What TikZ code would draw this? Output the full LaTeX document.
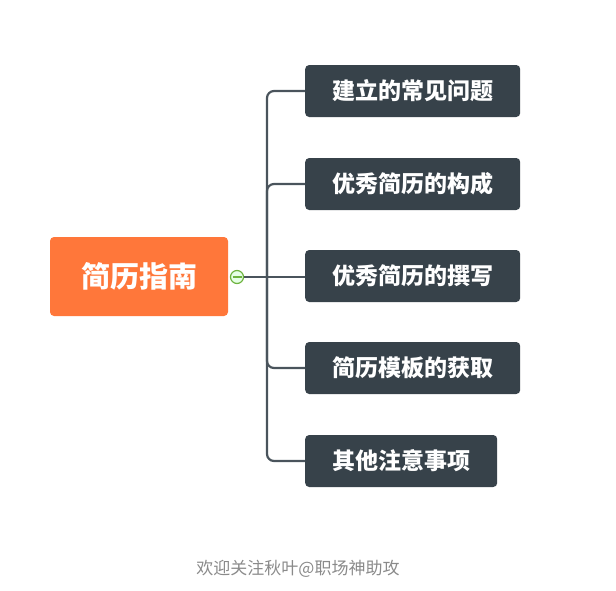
\documentclass[tikz,border=0pt]{standalone}
\usepackage{fontspec}
\usepackage{xcolor}
\usepackage{tikz}
\usetikzlibrary{positioning}
\newfontfamily\cjk{Noto Sans CJK SC}
\definecolor{corange}{HTML}{FF773A}
\definecolor{cdark}{HTML}{37424A}
\definecolor{cline}{HTML}{4A545C}
\definecolor{cgreen}{HTML}{6DB33F}
\definecolor{cmark}{HTML}{8A8A8A}

\begin{document}
\begin{tikzpicture}[
    x=1pt, y=-1pt,
    topic/.style={rectangle, rounded corners=4pt, fill=corange, text=white,
        font=\cjk\bfseries\fontsize{29}{29}\selectfont,
        minimum width=178pt, minimum height=79pt, inner sep=0pt},
    sub/.style={rectangle, rounded corners=4pt, fill=cdark, text=white, anchor=west,
        font=\cjk\bfseries\fontsize{23}{23}\selectfont,
        minimum height=52pt, inner xsep=27pt, inner ysep=0pt},
    link/.style={draw=cline, line width=2.2pt, rounded corners=7pt},
]
\useasboundingbox (0,0) rectangle (616,590);
% central topic
\node[topic] (guide) at (139, 276.5) {简历指南};
\node[circle, draw=cgreen, fill=green!10, line width=1.2pt, minimum size=13pt, inner sep=0pt]
    (fold) at (237, 277) {};
\draw[cgreen, line width=1.2pt] (232.5, 277) -- (241.5, 277);
\coordinate (trunk) at (267, 277);
% subtopics
\node[sub] (q1) at (305, 91)  {建立的常见问题};
\node[sub] (q2) at (305, 184) {优秀简历的构成};
\node[sub] (q3) at (305, 276) {优秀简历的撰写};
\node[sub] (q4) at (305, 368) {简历模板的获取};
\node[sub] (q5) at (305, 461) {其他注意事项};
% connectors
\draw[link] (fold.east) -- (trunk);
\foreach \n in {q1,q2,q4,q5}
    \draw[link] (trunk) |- (\n.west);
\draw[link] (trunk) -- (q3.west |- trunk);
% footer
\node[font=\cjk\fontsize{17}{17}\selectfont, text=cmark] (credit) at (298, 569) {欢迎关注秋叶@职场神助攻};
\end{tikzpicture}
\end{document}
